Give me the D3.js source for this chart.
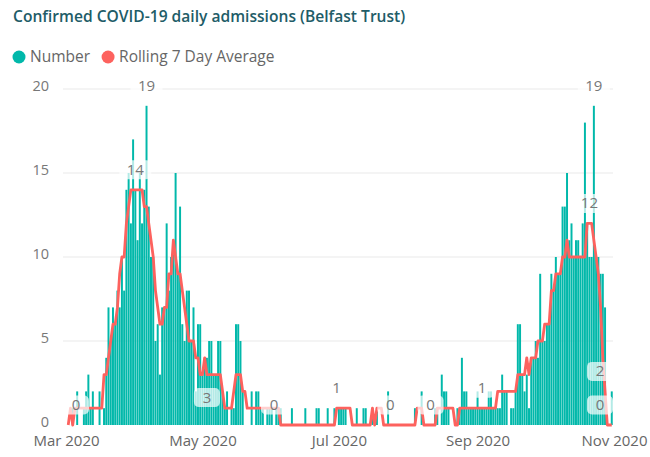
<!DOCTYPE html>
<html>
<head>
<meta charset="utf-8">
<script src="https://cdn.jsdelivr.net/npm/d3@7"></script>
<style>
  body { margin: 0; background: #fff; }
  svg { display: block; font-family: "Open Sans", "Noto Sans", sans-serif; }
</style>
</head>
<body>
<svg id="chart" width="650" height="457"></svg>
<script>
// ---- data -------------------------------------------------------------
const chartTitle = "Confirmed COVID-19 daily admissions (Belfast Trust)";
const seriesNames = ["Number", "Rolling 7 Day Average"];
const firstDay = "2020-03-02";
const monthTicks = ["2020-03-01", "2020-05-01", "2020-07-01", "2020-09-01", "2020-11-01"];
const valueTicks = [0, 5, 10, 15, 20];

// daily confirmed admissions, one value per day from firstDay
const admissions = [
  0,0,1,0,2,0,0,1,2,3,1,2,0,0,2,0,1,
  4,7,5,7,6,8,7,
  10,8,14,15,12,17,14,11,15,12,14,19,
  13,10,10,5,6,3,7,7,12,8,10,11,15,
  9,13,6,5,8,8,5,7,2,6,6,3,4,4,5,5,3,3,5,5,2,1,2,0,1,1,6,6,5,2,0,0,0,2,0,2,2,1,1,0,1,1,1,0,1,1,1,
  0,0,0,0,1,0,0,0,0,0,1,0,0,0,0,1,1,0,0,0,1,0,0,1,0,1,1,1,1,0,0,0,0,1,0,0,1,1,0,0,
  1,0,1,0,0,0,0,2,0,0,0,0,0,0,0,0,0,0,0,1,0,0,2,0,0,0,0,0,1,1,0,3,2,2,1,0,0,0,1,1,
  4,2,2,1,1,1,1,2,1,1,1,1,2,2,1,1,1,
  1,3,2,2,0,1,1,2,6,6,3,2,3,1,4,4,5,4,9,5,5,6,6,9,
  8,10,9,9,13,13,15,11,12,10,11,11,10,12,18,12,10,10,19,10,10,9,9,7,0,0,2
];

// rolling 7 day average (rounded), same days
const rollingAverage = [
  0,1,0,1,1,1,1,1,1,1,1,1,1,1,1,1,
  3,3,4,5,6,6,7,9,10,10,12,13,14,14,14,14,14,14,13,13,12,11,10,8,7,6,6,7,7,9,9,11,
  10,9,9,8,7,6,5,5,5,4,4,3,3,4,3,3,3,3,3,3,3,2,1,1,1,1,2,3,3,3,2,2,
  1,1,1,1,1,1,1,1,1,1,1,1,1,1,1,
  0,0,0,0,0,0,0,0,0,0,0,0,0,0,0,0,0,0,0,0,0,0,0,0,0,
  1,1,1,1,1,1,1,
  0,0,0,0,0,0,0,0,0,
  1,0,1,1,1,
  0,0,0,0,0,0,0,0,0,0,0,0,0,0,0,
  1,1,1,
  0,0,0,0,0,0,
  1,1,1,1,1,1,1,1,
  0,0,
  1,1,1,1,1,1,1,1,1,1,1,1,1,1,1,1,1,
  2,2,2,2,2,2,2,2,2,
  3,3,3,3,
  4,3,4,4,4,5,5,5,6,6,6,8,8,9,9,9,10,10,11,10,10,10,10,10,10,10,10,12,12,12,11,10,9,7,4,2,0,0,0
];

// which points carry a data label (day = index from firstDay)
const pointLabels = [
  { series: "average", day: 2,   side: "above" },
  { series: "average", day: 30,  side: "above" },
  { series: "number",  day: 35,  side: "above" },
  { series: "average", day: 62,  side: "below" },
  { series: "number",  day: 92,  side: "above" },
  { series: "average", day: 120, side: "above" },
  { series: "average", day: 144, side: "above" },
  { series: "average", day: 162, side: "above" },
  { series: "average", day: 185, side: "above" },
  { series: "average", day: 233, side: "above" },
  { series: "number",  day: 235, side: "above" },
  { series: "average", day: 240, side: "above" },
  { series: "average", day: 243, side: "above" }
];

// ---- drawing ----------------------------------------------------------
const teal = "#01B8AA";
const red = "#FD625E";
const textGrey = "#666666";

const parse = d3.timeParse("%Y-%m-%d");
const start = parse(firstDay);
const days = admissions.map((_, i) => d3.timeDay.offset(start, i));
const tickDates = monthTicks.map(parse);

const svg = d3.select("#chart");
const plot = { left: 63, right: 613, top: 89, bottom: 425 };

const x = d3.scaleTime()
  .domain([tickDates[0], tickDates[tickDates.length - 1]])
  .range([66, 614]);
const y = d3.scaleLinear().domain([0, 20]).range([plot.bottom, plot.top]);
const dayWidth = x(d3.timeDay.offset(start, 1)) - x(start);
const barWidth = dayWidth * 0.88;

// title
svg.append("text")
  .attr("x", 13).attr("y", 22)
  .attr("fill", "#215C67")
  .attr("font-size", 15.6)
  .attr("font-weight", 600)
  .text(chartTitle);

// legend
const legend = svg.append("g");
let lx = 19;
seriesNames.forEach((name, i) => {
  legend.append("circle")
    .attr("cx", lx).attr("cy", 57).attr("r", 6.5)
    .attr("fill", i === 0 ? teal : red);
  const t = legend.append("text")
    .attr("x", lx + 11).attr("y", 62)
    .attr("font-size", 15.5).attr("fill", textGrey)
    .text(name);
  lx += 11 + t.node().getComputedTextLength() + 18;
});

// gridlines
svg.append("g")
  .selectAll("line")
  .data(valueTicks.filter(v => v > 0))
  .join("line")
  .attr("x1", plot.left).attr("x2", plot.right)
  .attr("y1", d => y(d)).attr("y2", d => y(d))
  .attr("stroke", "#E9E9E9").attr("stroke-width", 1);

// y axis
const yAxis = svg.append("g")
  .attr("transform", `translate(${plot.left - 14},-3)`)
  .call(d3.axisLeft(y).tickValues(valueTicks).tickSize(0).tickPadding(0));
yAxis.select(".domain").remove();
yAxis.selectAll("text")
  .attr("font-family", "Open Sans, sans-serif")
  .attr("font-size", 14.5).attr("fill", "#777");

// x axis
const xAxis = svg.append("g")
  .attr("transform", `translate(0,${plot.bottom + 10})`)
  .call(d3.axisBottom(x).tickValues(tickDates)
    .tickFormat(d3.timeFormat("%b %Y")).tickSize(0).tickPadding(0));
xAxis.select(".domain").remove();
xAxis.selectAll("text")
  .attr("font-family", "Open Sans, sans-serif")
  .attr("font-size", 15).attr("fill", textGrey);

// bars
svg.append("g")
  .selectAll("rect")
  .data(admissions)
  .join("rect")
  .attr("x", (d, i) => x(days[i]) - barWidth / 2)
  .attr("width", barWidth)
  .attr("y", d => y(d))
  .attr("height", d => y(0) - y(d))
  .attr("fill", teal);

// rolling average line
const line = d3.line()
  .x((d, i) => x(days[i]))
  .y(d => y(d));
svg.append("path")
  .datum(rollingAverage)
  .attr("d", line)
  .attr("fill", "none")
  .attr("stroke", red)
  .attr("stroke-width", 2.8)
  .attr("stroke-linejoin", "round");

// data labels with translucent backgrounds
const labelLayer = svg.append("g");
pointLabels.forEach(lab => {
  const value = lab.series === "number" ? admissions[lab.day] : rollingAverage[lab.day];
  const text = String(value);
  const w = text.length > 1 ? 32 : 26;
  const h = 19;
  let cx = x(days[lab.day]);
  cx = Math.max(plot.left + w / 2, Math.min(plot.right - w / 2, cx));
  const py = y(value);
  const cy = lab.side === "above" ? py - 20 : py + 23;
  labelLayer.append("rect")
    .attr("x", cx - w / 2).attr("y", cy - h / 2)
    .attr("width", w).attr("height", h)
    .attr("rx", 5)
    .attr("fill", "#fff").attr("fill-opacity", 0.7);
  labelLayer.append("text")
    .attr("x", cx).attr("y", cy + 5)
    .attr("text-anchor", "middle")
    .attr("font-size", 15).attr("fill", "#777")
    .text(text);
});
</script>
</body>
</html>
